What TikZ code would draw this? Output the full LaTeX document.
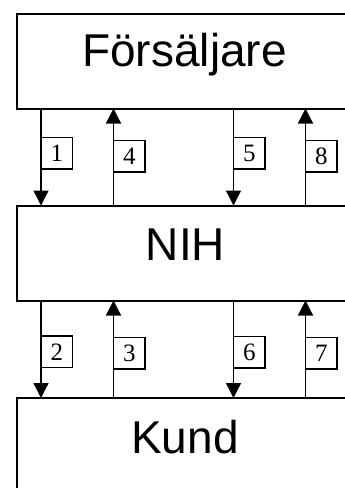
\documentclass[tikz,border=0pt]{standalone}
\usepackage{fontspec}
\setmainfont{Liberation Serif}
\newfontfamily\arialf{Liberation Sans}
\usetikzlibrary{arrows.meta}
\begin{document}
\begin{tikzpicture}[x=1pt,y=-1pt,
  bigbox/.style={draw,line width=2pt,minimum width=336pt,minimum height=95pt,inner sep=0pt,outer sep=0pt,anchor=north west},
  bigtext/.style={font=\arialf\fontsize{46}{50}\selectfont,anchor=base,inner sep=0pt},
  labbox/.style={draw,line width=1.3pt,minimum width=31.5pt,minimum height=31.5pt,inner sep=0pt,outer sep=0pt,anchor=north west,font=\fontsize{25}{28}\selectfont},
  arr/.style={line width=1.3pt,-{Triangle[width=15pt,length=15pt]}}]
\useasboundingbox (0,0) rectangle (345,488);
\node[bigbox] (F) at (17,13.5) {};
\node[bigbox] (N) at (17,205.5) {};
\node[bigbox] (K) at (17,398) {};
\node[bigtext] (Ft) at (184.5,66.5) {Försäljare};
\node[bigtext] (Nt) at (185.5,260.5) {NIH};
\node[bigtext] (Kt) at (185,453) {Kund};
\coordinate (xa) at (41,0);
\coordinate (xb) at (113.5,0);
\coordinate (xc) at (233.5,0);
\coordinate (xd) at (305.5,0);
% between Försäljare and NIH
\draw[arr] (F.south -| xa) -- (N.north -| xa);
\draw[arr] (N.north -| xb) -- (F.south -| xb);
\draw[arr] (F.south -| xc) -- (N.north -| xc);
\draw[arr] (N.north -| xd) -- (F.south -| xd);
% between NIH and Kund
\draw[arr] (N.south -| xa) -- (K.north -| xa);
\draw[arr] (K.north -| xb) -- (N.south -| xb);
\draw[arr] (N.south -| xc) -- (K.north -| xc);
\draw[arr] (K.north -| xd) -- (N.south -| xd);
% labels
\node[labbox] (l1) at (41,137.5) {1};
\node[labbox] (l4) at (113.5,140.5) {4};
\node[labbox] (l5) at (233.5,137.5) {5};
\node[labbox] (l8) at (305.5,140.5) {8};
\node[labbox] (l2) at (41,336) {2};
\node[labbox] (l3) at (113.5,337.5) {3};
\node[labbox] (l6) at (233.5,336.5) {6};
\node[labbox] (l7) at (305.5,337.5) {7};
\end{tikzpicture}
\end{document}
